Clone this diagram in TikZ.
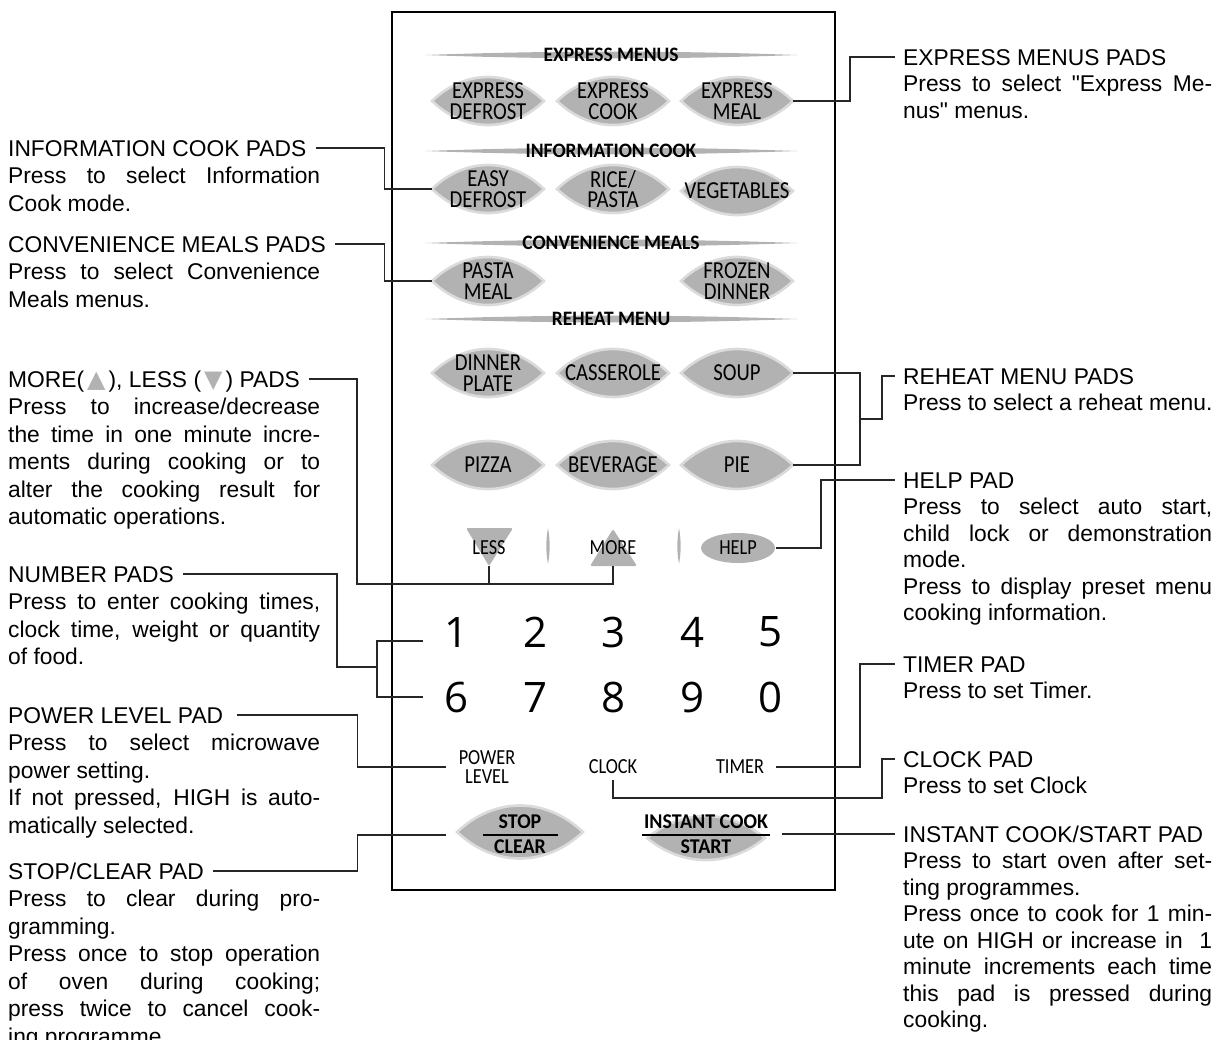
\documentclass[tikz,border=0pt]{standalone}
\usepackage{fontspec}
\setmainfont{Liberation Sans}
\newfontfamily\pf[FakeStretch=0.85]{Carlito}
\newfontfamily\pfb[FakeStretch=0.95]{Carlito}
\newfontfamily\df{Open Sans}
\newfontfamily\dejavu{DejaVu Sans}
\newcommand\JL[1]{\makebox[312pt][s]{#1}}
\newcommand\JR[1]{\makebox[309pt][s]{#1}}
\newcommand\sq{\XeTeXglyph\the\XeTeXcharglyph"22\relax}
\newcommand\tri[1]{\hspace{3pt}{\dejavu\fontsize{24}{24}\selectfont\color{black!30}#1}\hspace{3pt}}
\newcommand\mylens[4]{%
  \path[lensedge] (#1-#3/2,#2) .. controls (#1-#3/5,#2-#4*0.667) and (#1+#3/5,#2-#4*0.667) .. (#1+#3/2,#2)
     .. controls (#1+#3/5,#2+#4*0.667) and (#1-#3/5,#2+#4*0.667) .. cycle;}
\newcommand\mypad[4]{\mylens{#2}{#3}{112}{48}\node[padtxt] (#1) at (#2,#3) {#4};}
\newcommand\mybar[2]{%
  \fill[black!30] (#1-186,#2) .. controls (#1-60,#2-4.5) and (#1+60,#2-4.5) .. (#1+186,#2)
     .. controls (#1+60,#2+4.5) and (#1-60,#2+4.5) .. cycle;}
\newcommand\mysep[2]{%
  \fill[black!30] (#1,#2-18) .. controls (#1+2.2,#2-6) and (#1+2.2,#2+6) .. (#1,#2+18)
     .. controls (#1-2.2,#2+6) and (#1-2.2,#2-6) .. cycle;}
\tikzset{
  conn/.style={draw=black!85, line width=1.3pt},
  lensedge/.style={fill=black!30, draw=black!14, line width=2.6pt},
  ttl/.style={anchor=base west, inner sep=0pt, text height=16pt, text depth=0pt, font=\fontsize{22.8}{27.5}\selectfont},
  bdy/.style={anchor=north west, inner sep=0pt, align=left, font=\fontsize{22.8}{27.5}\selectfont},
  bdyr/.style={anchor=north west, inner sep=0pt, align=left, font=\fontsize{22.8}{26.5}\selectfont},
  padtxt/.style={inner sep=0pt, align=center, minimum width=112pt, minimum height=48pt, font=\pf\fontsize{24.4}{20.5}\selectfont},
  lbl/.style={inner sep=0pt, align=center, font=\pf\fontsize{21.5}{19.5}\selectfont},
  hdr/.style={inner sep=0pt, font=\pfb\bfseries\fontsize{20.5}{20}\selectfont},
  bld/.style={inner sep=0pt, font=\pfb\bfseries\fontsize{21}{20}\selectfont},
  dig/.style={inner sep=0pt, minimum width=50pt, font=\df\fontsize{42}{42}\selectfont},
}
\begin{document}
\begin{tikzpicture}[x=1pt,y=-1pt]
\useasboundingbox (0,0) rectangle (1225,1039);

% ---------- panel ----------
\draw[line width=2.2pt] (392,12) rectangle (835,890);

% headers
\mybar{611}{55}  \node[hdr] (hexp) at (611,55) {EXPRESS MENUS};
\mybar{611}{151} \node[hdr] (hinf) at (611,151) {INFORMATION COOK};
\mybar{611}{243} \node[hdr] (hcon) at (611,243) {CONVENIENCE MEALS};
\mybar{611}{319} \node[hdr] (hreh) at (611,319) {REHEAT MENU};

% pads
\mypad{ed}{488}{101}{EXPRESS\\DEFROST}
\mypad{ec}{613}{101}{EXPRESS\\COOK}
\mypad{em}{737}{101}{EXPRESS\\MEAL}
\mypad{easy}{488}{189}{EASY\\DEFROST}
\mypad{rice}{613}{189}{RICE/\\PASTA}
\mypad{veg}{737}{191}{VEGETABLES}
\mypad{pasta}{488}{281}{PASTA\\MEAL}
\mypad{frozen}{737}{281}{FROZEN\\DINNER}
\mypad{dinner}{488}{373}{DINNER\\PLATE}
\mypad{cass}{613}{373}{CASSEROLE}
\mypad{soup}{737}{373}{SOUP}
\mypad{pizza}{488}{465}{PIZZA}
\mypad{bev}{613}{465}{BEVERAGE}
\mypad{pie}{737}{465}{PIE}

% less / more / help
\fill[black!30, rounded corners=2pt] (466,528) -- (513,528) -- (489,566) -- cycle;
\fill[black!30, rounded corners=2pt] (590,566) -- (637,566) -- (613,529) -- cycle;
\node[lbl] (less) at (489,548) {LESS};
\node[lbl] (more) at (613,548) {MORE};
\coordinate (lesst) at (489,566);
\coordinate (moreb) at (613,566);
\mysep{548}{546}
\mysep{679}{546}
\fill[black!30] (738,548) ellipse (37 and 15);
\node[lbl, minimum width=76pt] (help) at (738,548) {HELP};

% digits
\foreach \d/\x/\y in {1/457/632,2/535/632,3/613/632,4/692/632,5/770/632,6/457/697,7/535/697,8/613/697,9/692/697,0/770/697}
  \node[dig] (n\d) at (\x,\y) {\d};

% power / clock / timer
\node[lbl, minimum width=82pt] (power) at (487,767) {POWER\\LEVEL};
\node[lbl] (clock) at (613,767) {CLOCK};
\node[lbl] (timer) at (740,767) {TIMER};

% stop / clear
\mylens{520}{832}{126}{53}
\node[bld] at (520,822) {STOP};
\node[bld] at (520,847) {CLEAR};
\draw[line width=1.6pt] (483,835) -- (558,835);
\node[minimum width=126pt, minimum height=53pt, inner sep=0pt] (stop) at (520,835) {};

% instant cook / start
\mylens{706}{838}{118}{44}
\node[bld] at (706,822) {INSTANT COOK};
\node[bld] at (706,847) {START};
\draw[line width=1.6pt] (642,835) -- (770,835);
\node[minimum width=152pt, minimum height=40pt, inner sep=0pt] (instant) at (706,834) {};

% ---------- left texts ----------
\node[ttl] (tinfo) at (8,156) {INFORMATION COOK PADS};
\node[bdy] at ([yshift=-8.25pt]tinfo.base west) {\strut\JL{Press to select Information}\\Cook mode.};

\node[ttl] (tconv) at (8,252) {CONVENIENCE MEALS PADS};
\node[bdy] at ([yshift=-8.25pt]tconv.base west) {\strut\JL{Press to select Convenience}\\Meals menus.};

\node[ttl] (tmore) at (8,387) {MORE(\tri{▲}), LESS (\tri{▼}) PADS};
\node[bdy] at ([yshift=-8.25pt]tmore.base west) {\strut\JL{Press to increase/decrease}\\\JL{the time in one minute incre-}\\\JL{ments during cooking or to}\\\JL{alter the cooking result for}\\automatic operations.};

\node[ttl] (tnum) at (8,582) {NUMBER PADS};
\node[bdy] at ([yshift=-8.25pt]tnum.base west) {\strut\JL{Press to enter cooking times,}\\\JL{clock time, weight or quantity}\\of food.};

\node[ttl] (tpow) at (8,723) {POWER LEVEL PAD};
\node[bdy] at ([yshift=-8.25pt]tpow.base west) {\strut\JL{Press to select microwave}\\power setting.\\\JL{If not pressed, HIGH is auto-}\\matically selected.};

\node[ttl] (tstop) at (8,879) {STOP/CLEAR PAD};
\node[bdy] at ([yshift=-8.25pt]tstop.base west) {\strut\JL{Press to clear during pro-}\\gramming.\\\JL{Press once to stop operation}\\\JL{of oven during cooking;}\\\JL{press twice to cancel cook-}\\ing programme.};

% ---------- right texts ----------
\node[ttl] (texp) at (903,65) {EXPRESS MENUS PADS};
\node[bdyr] at ([yshift=-7.95pt]texp.base west) {\strut\JR{Press to select \sq Express Me-}\\nus\sq{} menus.};

\node[ttl] (treh) at (903,384) {REHEAT MENU PADS};
\node[bdyr] at ([yshift=-7.95pt]treh.base west) {\strut Press to select a reheat menu.};

\node[ttl] (thelp) at (903,488) {HELP PAD};
\node[bdyr] at ([yshift=-7.95pt]thelp.base west) {\strut\JR{Press to select auto start,}\\\JR{child lock or demonstration}\\mode.\\\JR{Press to display preset menu}\\cooking information.};

\node[ttl] (ttimer) at (903,672) {TIMER PAD};
\node[bdyr] at ([yshift=-7.95pt]ttimer.base west) {\strut Press to set Timer.};

\node[ttl] (tclock) at (903,767) {CLOCK PAD};
\node[bdyr] at ([yshift=-7.95pt]tclock.base west) {\strut Press to set Clock};

\node[ttl] (tinst) at (903,842) {INSTANT COOK/START PAD};
\node[bdyr] at ([yshift=-7.95pt]tinst.base west) {\strut\JR{Press to start oven after set-}\\ting programmes.\\\JR{Press once to cook for 1 min-}\\\JR{ute on HIGH or increase in \ 1}\\\JR{minute increments each time}\\\JR{this pad is pressed during}\\cooking.};

% ---------- connectors ----------
\draw[conn] (em.east) -| ([xshift=-53pt]texp.west) -- ([xshift=-8pt]texp.west);
\draw[conn] ([xshift=9pt]tinfo.east) -| ([xshift=-47pt]easy.west) -- (easy.west);
\draw[conn] ([xshift=9pt]tconv.east) -| ([xshift=-47pt]pasta.west) -- (pasta.west);

\coordinate (mlj) at (357,584);
\draw[conn] ([xshift=9pt]tmore.east) -| (mlj) -| (moreb);
\draw[conn] (lesst) -- (lesst |- mlj);

\coordinate (numj) at (377,667);
\draw[conn] ([xshift=9pt]tnum.east) -| ([xshift=-40pt]numj) -- (numj);
\draw[conn] ([xshift=-9pt,yshift=-9pt]n1.west) -| (numj) |- ([xshift=-9pt]n6.west);

\draw[conn] ([xshift=14pt]tpow.east) -| ([xshift=-88pt]power.west) -- (power.west);
\draw[conn] ([xshift=9pt]tstop.east) -| ([xshift=-99pt]stop.west) -- ([xshift=-11pt]stop.west);

\coordinate (rhj) at (860,419);
\draw[conn] (soup.east) -| (rhj) |- (pie.east);
\draw[conn] (rhj) -| ([xshift=-21pt]treh.west) -- ([xshift=-8pt]treh.west);

\draw[conn] (help.east) -| ([xshift=-82pt]thelp.west) -- ([xshift=-8pt]thelp.west);
\draw[conn] ([xshift=12pt]timer.east) -| ([xshift=-43pt]ttimer.west) -- ([xshift=-8pt]ttimer.west);

\coordinate (clj) at (882,798);
\draw[conn] ([yshift=-6pt]clock.south) |- (clj) |- ([xshift=-8pt]tclock.west);

\draw[conn] (instant.east) -- ([xshift=-8pt]tinst.west);
\end{tikzpicture}
\end{document}
